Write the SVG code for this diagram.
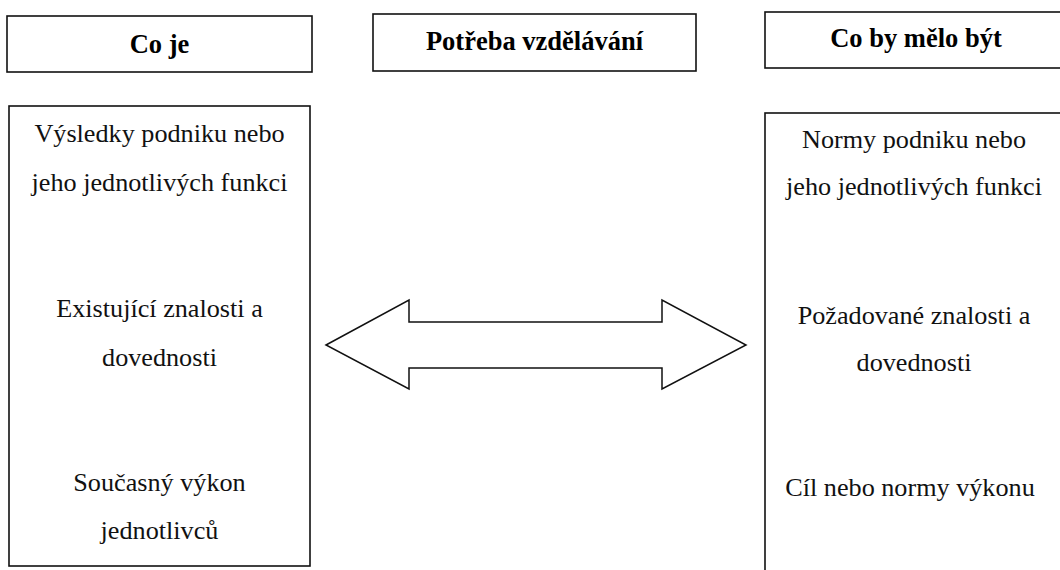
<svg xmlns="http://www.w3.org/2000/svg" width="1060" height="570" viewBox="0 0 1060 570">
  <style>
    .box { fill: #ffffff; stroke: #111111; stroke-width: 1.6; }
    .head { font-family: "Liberation Serif", "Times New Roman", serif; font-weight: bold; font-size: 26.5px; fill: #000000; text-anchor: middle; }
    .body { font-family: "Liberation Serif", "Times New Roman", serif; font-size: 26.2px; fill: #111111; text-anchor: middle; }
    .arrow { fill: #ffffff; stroke: #111111; stroke-width: 1.5; stroke-linejoin: miter; }
  </style>
  <rect width="1060" height="570" fill="#ffffff"/>

  <!-- column headings -->
  <g id="head-current">
    <rect class="box" x="7" y="16" width="305" height="56"/>
    <text class="head" x="159.5" y="52.5">Co je</text>
  </g>
  <g id="head-need">
    <rect class="box" x="373" y="14" width="323" height="57"/>
    <text class="head" x="534.5" y="50">Potřeba vzdělávání</text>
  </g>
  <g id="head-target">
    <rect class="box" x="765" y="12" width="300" height="56"/>
    <text class="head" x="916" y="47">Co by mělo být</text>
  </g>

  <!-- current state -->
  <g id="current-state">
    <rect class="box" x="9" y="106" width="301" height="460"/>
    <text class="body" x="159.5" y="141.5">Výsledky podniku nebo</text>
    <text class="body" x="159.5" y="191">jeho jednotlivých funkci</text>
    <text class="body" x="159.5" y="317">Existující znalosti a</text>
    <text class="body" x="159.5" y="365.5">dovednosti</text>
    <text class="body" x="159.5" y="491">Současný výkon</text>
    <text class="body" x="159.5" y="539">jednotlivců</text>
  </g>

  <!-- desired state -->
  <g id="desired-state">
    <rect class="box" x="765" y="113" width="300" height="470"/>
    <text class="body" x="914" y="147.5">Normy podniku nebo</text>
    <text class="body" x="914" y="195">jeho jednotlivých funkci</text>
    <text class="body" x="914" y="323.5">Požadované znalosti a</text>
    <text class="body" x="914" y="371">dovednosti</text>
    <text class="body" x="910" y="496">Cíl nebo normy výkonu</text>
  </g>

  <!-- gap between the two states -->
  <g id="connectors">
    <polygon class="arrow" points="326,345 409,300 409,322 662,322 662,300 746,345 662,389 662,368 409,368 409,389"/>
  </g>
</svg>
